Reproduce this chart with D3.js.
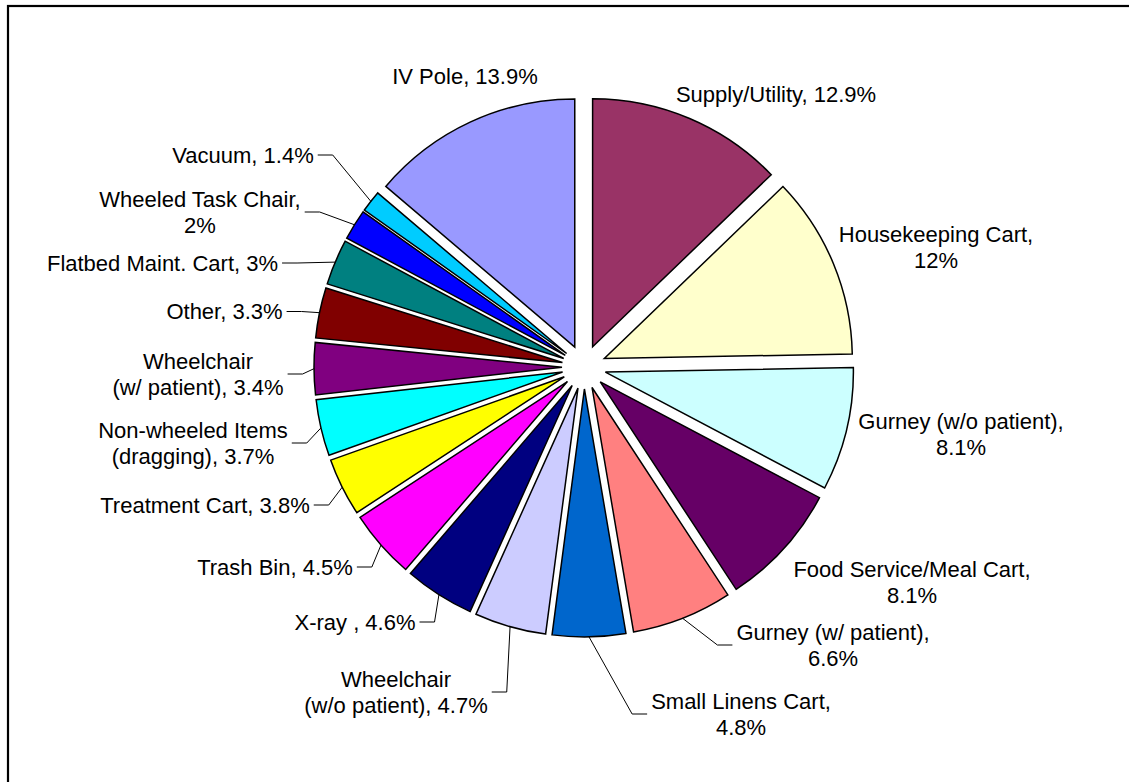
<!DOCTYPE html>
<html>
<head>
<meta charset="utf-8">
<script src="https://cdn.jsdelivr.net/npm/d3@7"></script>
<style>
  html, body { margin: 0; padding: 0; background: #fff; }
  svg { display: block; }
</style>
</head>
<body>
<svg id="chart" width="1129" height="782"></svg>
<script>
// Share of incidents by object being pushed/pulled (percent)
const categories = [
  "Supply/Utility", "Housekeeping Cart", "Gurney (w/o patient)", "Food Service/Meal Cart",
  "Gurney (w/ patient)", "Small Linens Cart", "Wheelchair (w/o patient)", "X-ray ",
  "Trash Bin", "Treatment Cart", "Non-wheeled Items (dragging)", "Wheelchair (w/ patient)",
  "Other", "Flatbed Maint. Cart", "Wheeled Task Chair", "Vacuum", "IV Pole"
];
const shares = [12.9, 12, 8.1, 8.1, 6.6, 4.8, 4.7, 4.6, 4.5, 3.8, 3.7, 3.4, 3.3, 3, 2, 1.4, 13.9];
const sliceColors = [
  "#993366", "#FFFFCC", "#CCFFFF", "#660066", "#FF8080", "#0066CC", "#CCCCFF", "#000080",
  "#FF00FF", "#FFFF00", "#00FFFF", "#800080", "#800000", "#008080", "#0000FF", "#00CCFF", "#9999FF"
];

// How each label wraps: "one" = single line, "value" = value on its own line,
// "name" = break the name before its parenthesis
const labelWrap = [
  "one", "value", "value", "value", "value", "value", "name", "one",
  "one", "one", "name", "name", "one", "one", "value", "one", "one"
];
// Label block centres (x, y) and whether a leader line joins label and slice
const labelPlacement = [
  [776, 94, false], [936, 247, false], [961, 434, false], [912, 582, false],
  [833, 645, true], [741, 714, true], [396, 692, true], [355, 622, true],
  [275, 567, true], [205, 505, true], [193, 443, true], [198, 374, true],
  [224.5, 311.5, true], [162.5, 263, true], [200, 212, true], [243, 155, true],
  [465, 76.5, false]
];

const width = 1129, height = 782;
const cx = 584, cy = 367;
const radius = 248;
const explode = 22;
const lineHeight = 26;

const svg = d3.select("#chart");

// Chart area frame
svg.append("rect")
  .attr("x", 8).attr("y", 6)
  .attr("width", 1300).attr("height", 1000)
  .attr("fill", "#fff")
  .attr("stroke", "#000")
  .attr("stroke-width", 2.2);

const data = categories.map((c, i) => ({
  name: c, value: shares[i], color: sliceColors[i],
  wrap: labelWrap[i], place: labelPlacement[i]
}));

const pie = d3.pie().sort(null).value(d => d.value)
  .startAngle(0).endAngle(2 * Math.PI);
const arcs = pie(data);

const arc = d3.arc().innerRadius(0).outerRadius(radius);

function offsetOf(a) {
  const mid = (a.startAngle + a.endAngle) / 2;
  return [Math.sin(mid) * explode, -Math.cos(mid) * explode];
}

const g = svg.append("g").attr("transform", `translate(${cx},${cy})`);

g.selectAll("path.slice")
  .data(arcs)
  .join("path")
  .attr("class", "slice")
  .attr("transform", a => {
    const [ox, oy] = offsetOf(a);
    return `translate(${ox},${oy})`;
  })
  .attr("d", arc)
  .attr("fill", a => a.data.color)
  .attr("stroke", "#000")
  .attr("stroke-width", 1.5)
  .attr("stroke-linejoin", "miter");

function labelLines(d) {
  const v = `${d.value}%`;
  if (d.wrap === "value") return [`${d.name},`, v];
  if (d.wrap === "name") {
    const k = d.name.indexOf(" (");
    return [d.name.slice(0, k), `${d.name.slice(k + 1)}, ${v}`];
  }
  return [`${d.name}, ${v}`];
}

const labels = svg.append("g")
  .attr("font-family", "'Liberation Sans', Arial, Helvetica, sans-serif")
  .attr("font-size", 22)
  .attr("fill", "#000");

const leaders = svg.append("g")
  .attr("fill", "none")
  .attr("stroke", "#000")
  .attr("stroke-width", 1);

arcs.forEach(a => {
  const d = a.data;
  const [lx, ly, hasLeader] = d.place;
  const lines = labelLines(d);
  const n = lines.length;
  const text = labels.append("text")
    .attr("text-anchor", "middle");
  lines.forEach((s, i) => {
    text.append("tspan")
      .attr("x", lx)
      .attr("y", ly - (lineHeight / 2) * (n - 1) + lineHeight * i + 7.5)
      .text(s);
  });

  if (hasLeader) {
    const w = text.node().getBBox().width;
    const mid = (a.startAngle + a.endAngle) / 2;
    const [ox, oy] = offsetOf(a);
    const px = cx + ox + Math.sin(mid) * radius;
    const py = cy + oy - Math.cos(mid) * radius;
    const leftSide = lx < px;
    const ex = leftSide ? lx + w / 2 + 4 : lx - w / 2 - 4;
    const bx = leftSide ? ex + 15 : ex - 15;
    leaders.append("path")
      .attr("d", d3.line()([[px, py], [bx, ly], [ex, ly]]));
  }
});
</script>
</body>
</html>
